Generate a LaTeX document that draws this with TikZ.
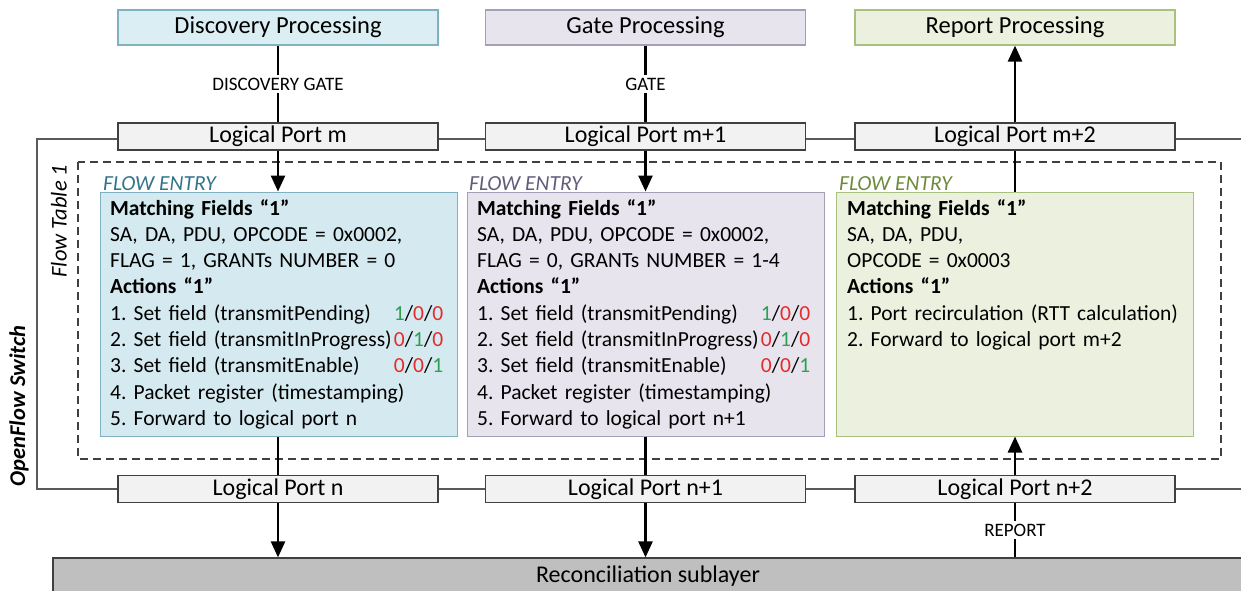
\documentclass[tikz,border=0pt]{standalone}
\usepackage{fontspec}
\setmainfont{Carlito}
\usetikzlibrary{arrows.meta}
\frenchspacing
\hyphenpenalty=10000
\exhyphenpenalty=10000

\definecolor{discfill}{HTML}{DAEEF3}
\definecolor{discline}{HTML}{7FB1C0}
\definecolor{discentry}{HTML}{D5EAF0}
\definecolor{disctext}{HTML}{31758C}
\definecolor{gatefill}{HTML}{E7E4EE}
\definecolor{gateline}{HTML}{A49FB7}
\definecolor{gatetext}{HTML}{625D7A}
\definecolor{repfill}{HTML}{EBF1DE}
\definecolor{repline}{HTML}{A9C07E}
\definecolor{reptext}{HTML}{6E8B3D}
\definecolor{portfill}{HTML}{F2F2F2}
\definecolor{darkline}{HTML}{404040}
\definecolor{framegray}{HTML}{5A5A5A}
\definecolor{reconfill}{HTML}{BFBFBF}
\definecolor{valgreen}{HTML}{2E9E4F}
\definecolor{valred}{HTML}{E52B2B}

\newcommand\valG[1]{\textcolor{valgreen}{#1}}
\newcommand\valR[1]{\textcolor{valred}{#1}}
\newcommand\rowfill[1]{\makebox[333pt][s]{#1}}

\begin{document}
\begin{tikzpicture}[x=1pt,y=-1pt,
  proc/.style={draw, line width=1.2pt, minimum width=320pt, minimum height=35pt,
    inner sep=0pt, font=\fontsize{24.5}{29}\selectfont},
  port/.style={draw=darkline, fill=portfill, line width=1.2pt, minimum width=320pt,
    minimum height=27pt, inner sep=0pt, font=\fontsize{24}{28}\selectfont},
  entry/.style={draw, line width=1pt, minimum width=357pt, minimum height=244pt, inner sep=0pt},
  etext/.style={anchor=north west, inner sep=0pt, align=left, text width=345pt,
    font=\fontsize{21.5}{26.3}\selectfont},
  elabel/.style={anchor=base west, inner sep=0pt, font=\fontsize{21.5}{26}\selectfont\itshape},
  link/.style={line width=2.5pt, draw=black},
  arr/.style={link, -{Triangle[width=14pt,length=16pt]}},
  glabel/.style={fill=white, inner sep=3pt, font=\fontsize{19}{22}\selectfont},
  frame/.style={draw=framegray, line width=1.4pt}
]
\clip (0,0) rectangle (1241,591);
\fill[white] (0,0) rectangle (1241,591);

% OpenFlow switch outline (runs off the right edge)
\coordinate (swTR) at (1250,139);
\coordinate (swTL) at (37,139);
\coordinate (swBL) at (37,489);
\coordinate (swBR) at (1250,489);
\draw[frame] (swTR) -- (swTL) -- (swBL) -- (swBR);

% flow table outline
\coordinate (ftTL) at (78,162);
\coordinate (ftBR) at (1221,459);
\draw[darkline, line width=1.5pt, dash pattern=on 8pt off 5pt] (ftTL) rectangle (ftBR);

% side captions
\node[rotate=90, font=\fontsize{22.5}{26}\selectfont\itshape] (ftcap) at (59,221) {Flow Table 1};
\node[rotate=90, font=\fontsize{22.5}{26}\selectfont\bfseries\itshape] (swcap) at (19,406) {OpenFlow Switch};

% processing blocks
\node[proc, fill=discfill, draw=discline] (disc) at (278,27.5) {Discovery Processing};
\node[proc, fill=gatefill, draw=gateline] (gate) at (645.5,27.5) {Gate Processing};
\node[proc, fill=repfill, draw=repline] (rep) at (1015,27.5) {Report Processing};

% logical ports
\node[port] (pm)  at (278,136.5)   {Logical Port m};
\node[port] (pm1) at (645.5,136.5) {Logical Port m+1};
\node[port] (pm2) at (1015,136.5)  {Logical Port m+2};
\node[port] (pn)  at (278,489)     {Logical Port n};
\node[port] (pn1) at (645.5,489)   {Logical Port n+1};
\node[port] (pn2) at (1015,489)    {Logical Port n+2};

% reconciliation sublayer
\node[draw=darkline, fill=reconfill, line width=1.2pt, minimum width=1190pt, minimum height=42pt,
  inner sep=0pt] (recon) at (648,579) {};
\node[font=\fontsize{24}{28}\selectfont, inner sep=0pt] (recontext) at (648,576) {Reconciliation sublayer};

% flow entries
\node[entry, fill=discentry, draw=discline] (fe1) at (278.5,314) {};
\node[entry, fill=gatefill, draw=gateline] (fe2) at (645.5,314) {};
\node[entry, fill=repfill, draw=repline] (fe3) at (1015,314) {};

\node[elabel, text=disctext] (fe1lab) at (103,190) {FLOW ENTRY};
\node[elabel, text=gatetext] (fe2lab) at (469,190) {FLOW ENTRY};
\node[elabel, text=reptext]  (fe3lab) at (839,190) {FLOW ENTRY};

\node[etext] (fe1txt) at (110,199) {%
\textbf{Matching Fields “1”}\\
SA, DA, PDU, OPCODE = 0x0002,\\
FLAG = 1, GRANTs NUMBER = 0\\
\textbf{Actions “1”}\\
\rowfill{1. Set field (transmitPending)\hfill\valG{1}/\valR{0}/\valR{0}}\\
\rowfill{2. Set field (transmitInProgress)\hfill\valR{0}/\valG{1}/\valR{0}}\\
\rowfill{3. Set field (transmitEnable)\hfill\valR{0}/\valR{0}/\valG{1}}\\
4. Packet register (timestamping)\\
5. Forward to logical port n};

\node[etext] (fe2txt) at (477,199) {%
\textbf{Matching Fields “1”}\\
SA, DA, PDU, OPCODE = 0x0002,\\
FLAG = 0, GRANTs NUMBER = 1-4\\
\textbf{Actions “1”}\\
\rowfill{1. Set field (transmitPending)\hfill\valG{1}/\valR{0}/\valR{0}}\\
\rowfill{2. Set field (transmitInProgress)\hfill\valR{0}/\valG{1}/\valR{0}}\\
\rowfill{3. Set field (transmitEnable)\hfill\valR{0}/\valR{0}/\valG{1}}\\
4. Packet register (timestamping)\\
5. Forward to logical port n+1};

\node[etext] (fe3txt) at (847,199) {%
\textbf{Matching Fields “1”}\\
SA, DA, PDU,\\
OPCODE = 0x0003\\
\textbf{Actions “1”}\\
\mbox{1. Port recirculation (RTT calculation)}\\
2. Forward to logical port m+2};

% connectors
\draw[link] (disc) -- node[glabel] {DISCOVERY GATE} (pm);
\draw[link] (gate) -- node[glabel] {GATE} (pm1);
\draw[arr] (pm2) -- (rep);

\draw[arr] (pm.south) -- (pm.south |- fe1.north);
\draw[arr] (pm1) -- (fe2);
\draw[link] (fe3) -- (pm2);

\draw[link] (fe1.south -| pn.north) -- (pn);
\draw[link] (fe2) -- (pn1);
\draw[arr] (pn2) -- (fe3);

\draw[arr] (pn.south) -- (pn.south |- recon.north);
\draw[arr] (pn1.south) -- (pn1.south |- recon.north);
\draw[link] (pn2.south |- recon.north) -- node[glabel] {REPORT} (pn2.south);
\end{tikzpicture}
\end{document}
